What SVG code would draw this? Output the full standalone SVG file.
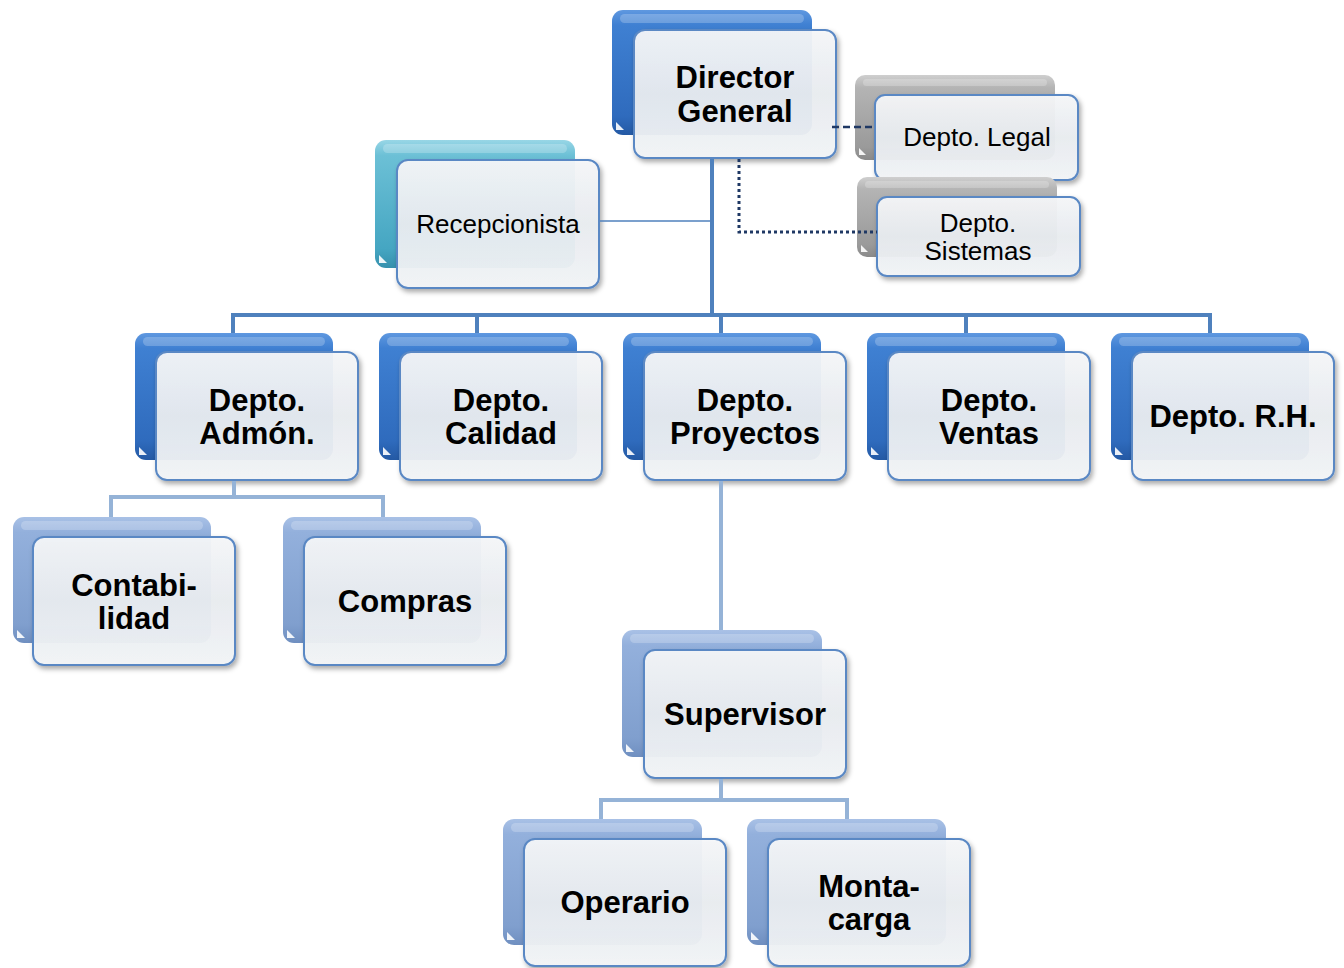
<svg xmlns="http://www.w3.org/2000/svg" width="1344" height="968" viewBox="0 0 1344 968">
<defs>
<linearGradient id="gBlue" x1="0" y1="0" x2="0" y2="1">
<stop offset="0" stop-color="#5f98e0"/><stop offset="0.12" stop-color="#3f80d2"/><stop offset="0.85" stop-color="#2f6bbd"/><stop offset="1" stop-color="#2459a4"/>
</linearGradient>
<linearGradient id="gLight" x1="0" y1="0" x2="0" y2="1">
<stop offset="0" stop-color="#a9c1e6"/><stop offset="0.12" stop-color="#93b0dc"/><stop offset="0.85" stop-color="#809fce"/><stop offset="1" stop-color="#6f8fc0"/>
</linearGradient>
<linearGradient id="gGrey" x1="0" y1="0" x2="0" y2="1">
<stop offset="0" stop-color="#cfcfcf"/><stop offset="0.15" stop-color="#b4b4b4"/><stop offset="0.85" stop-color="#9a9a9a"/><stop offset="1" stop-color="#8a8a8a"/>
</linearGradient>
<linearGradient id="gTeal" x1="0" y1="0" x2="0" y2="1">
<stop offset="0" stop-color="#98d6e6"/><stop offset="0.12" stop-color="#6cc0d6"/><stop offset="0.85" stop-color="#45a6c2"/><stop offset="1" stop-color="#3590ad"/>
</linearGradient>
<linearGradient id="gFront" x1="0" y1="0" x2="0" y2="1">
<stop offset="0" stop-color="#f6f7f9"/><stop offset="0.5" stop-color="#e9edf1"/><stop offset="1" stop-color="#f3f5f7"/>
</linearGradient>
<filter id="sh" x="-10%" y="-10%" width="125%" height="130%">
<feDropShadow dx="2" dy="3" stdDeviation="2.5" flood-color="#000" flood-opacity="0.35"/>
</filter>
<style>
.front{fill:url(#gFront);fill-opacity:0.94;stroke:#5a88c4;stroke-width:2;filter:url(#sh)}
.hl{fill:#fff;fill-opacity:0.22}
.notch{fill:#fff;fill-opacity:0.9}
.b{font-family:"Liberation Sans",Arial,sans-serif;font-weight:bold;font-size:31px;fill:#000;text-anchor:middle}
.r{font-family:"Liberation Sans",Arial,sans-serif;font-size:26px;fill:#000;text-anchor:middle}
.main{fill:none;stroke:#4f81bd;stroke-width:4}
.sub{fill:none;stroke:#95b3d7;stroke-width:4}
.thin{fill:none;stroke:#4f81bd;stroke-width:1.5}
.dash{fill:none;stroke:#1f3864;stroke-width:2.5;stroke-dasharray:7,4}
.dot{fill:none;stroke:#1f3864;stroke-width:3;stroke-dasharray:3,3}
</style>
</defs>
<rect width="1344" height="968" fill="#fff"/>

<g id="director">
<rect x="612" y="10" width="200" height="125" rx="11" fill="url(#gBlue)"/>
<rect x="620" y="14" width="184" height="9" rx="4.5" class="hl"/>
<path class="notch" d="M616,130 L616,122 L624,130 Z"/>
<rect x="634" y="30" width="202" height="128" rx="11" class="front"/>
<text class="b" x="735" y="88">Director</text>
<text class="b" x="735" y="122">General</text>
</g>

<g id="legal">
<rect x="855" y="75" width="200" height="85" rx="10" fill="url(#gGrey)"/>
<rect x="863" y="79" width="184" height="7" rx="3.5" class="hl"/>
<path class="notch" d="M859,155 L859,148 L866,155 Z"/>
<rect x="875" y="95" width="203" height="85" rx="10" class="front"/>
<text class="r" x="977" y="146">Depto. Legal</text>
</g>

<g id="sistemas">
<rect x="857" y="177" width="200" height="80" rx="10" fill="url(#gGrey)"/>
<rect x="865" y="181" width="184" height="7" rx="3.5" class="hl"/>
<path class="notch" d="M861,252 L861,245 L868,252 Z"/>
<rect x="877" y="197" width="203" height="79" rx="10" class="front"/>
<text class="r" x="978" y="232">Depto.</text>
<text class="r" x="978" y="260">Sistemas</text>
</g>

<g id="recepcionista">
<rect x="375" y="140" width="200" height="128" rx="11" fill="url(#gTeal)"/>
<rect x="383" y="144" width="184" height="9" rx="4.5" class="hl"/>
<path class="notch" d="M379,263 L379,255 L387,263 Z"/>
<rect x="397" y="160" width="202" height="128" rx="11" class="front"/>
<text class="r" x="498" y="233">Recepcionista</text>
</g>

<g id="admon">
<rect x="135" y="333" width="198" height="127" rx="11" fill="url(#gBlue)"/>
<rect x="143" y="337" width="182" height="9" rx="4.5" class="hl"/>
<path class="notch" d="M139,455 L139,447 L147,455 Z"/>
<rect x="156" y="352" width="202" height="128" rx="11" class="front"/>
<text class="b" x="257" y="411">Depto.</text>
<text class="b" x="257" y="444">Admón.</text>
</g>

<g id="calidad">
<rect x="379" y="333" width="198" height="127" rx="11" fill="url(#gBlue)"/>
<rect x="387" y="337" width="182" height="9" rx="4.5" class="hl"/>
<path class="notch" d="M383,455 L383,447 L391,455 Z"/>
<rect x="400" y="352" width="202" height="128" rx="11" class="front"/>
<text class="b" x="501" y="411">Depto.</text>
<text class="b" x="501" y="444">Calidad</text>
</g>

<g id="proyectos">
<rect x="623" y="333" width="198" height="127" rx="11" fill="url(#gBlue)"/>
<rect x="631" y="337" width="182" height="9" rx="4.5" class="hl"/>
<path class="notch" d="M627,455 L627,447 L635,455 Z"/>
<rect x="644" y="352" width="202" height="128" rx="11" class="front"/>
<text class="b" x="745" y="411">Depto.</text>
<text class="b" x="745" y="444">Proyectos</text>
</g>

<g id="ventas">
<rect x="867" y="333" width="198" height="127" rx="11" fill="url(#gBlue)"/>
<rect x="875" y="337" width="182" height="9" rx="4.5" class="hl"/>
<path class="notch" d="M871,455 L871,447 L879,455 Z"/>
<rect x="888" y="352" width="202" height="128" rx="11" class="front"/>
<text class="b" x="989" y="411">Depto.</text>
<text class="b" x="989" y="444">Ventas</text>
</g>

<g id="rh">
<rect x="1111" y="333" width="198" height="127" rx="11" fill="url(#gBlue)"/>
<rect x="1119" y="337" width="182" height="9" rx="4.5" class="hl"/>
<path class="notch" d="M1115,455 L1115,447 L1123,455 Z"/>
<rect x="1132" y="352" width="202" height="128" rx="11" class="front"/>
<text class="b" x="1233" y="427">Depto. R.H.</text>
</g>

<g id="contabilidad">
<rect x="13" y="517" width="198" height="126" rx="11" fill="url(#gLight)"/>
<rect x="21" y="521" width="182" height="9" rx="4.5" class="hl"/>
<path class="notch" d="M17,638 L17,630 L25,638 Z"/>
<rect x="33" y="537" width="202" height="128" rx="11" class="front"/>
<text class="b" x="134" y="596">Contabi-</text>
<text class="b" x="134" y="629">lidad</text>
</g>

<g id="compras">
<rect x="283" y="517" width="198" height="126" rx="11" fill="url(#gLight)"/>
<rect x="291" y="521" width="182" height="9" rx="4.5" class="hl"/>
<path class="notch" d="M287,638 L287,630 L295,638 Z"/>
<rect x="304" y="537" width="202" height="128" rx="11" class="front"/>
<text class="b" x="405" y="612">Compras</text>
</g>

<g id="supervisor">
<rect x="622" y="630" width="200" height="127" rx="11" fill="url(#gLight)"/>
<rect x="630" y="634" width="184" height="9" rx="4.5" class="hl"/>
<path class="notch" d="M626,752 L626,744 L634,752 Z"/>
<rect x="644" y="650" width="202" height="128" rx="11" class="front"/>
<text class="b" x="745" y="725">Supervisor</text>
</g>

<g id="operario">
<rect x="503" y="819" width="199" height="126" rx="11" fill="url(#gLight)"/>
<rect x="511" y="823" width="183" height="9" rx="4.5" class="hl"/>
<path class="notch" d="M507,940 L507,932 L515,940 Z"/>
<rect x="524" y="839" width="202" height="127" rx="11" class="front"/>
<text class="b" x="625" y="913">Operario</text>
</g>

<g id="montacarga">
<rect x="747" y="819" width="199" height="126" rx="11" fill="url(#gLight)"/>
<rect x="755" y="823" width="183" height="9" rx="4.5" class="hl"/>
<path class="notch" d="M751,940 L751,932 L759,940 Z"/>
<rect x="768" y="839" width="202" height="127" rx="11" class="front"/>
<text class="b" x="869" y="897">Monta-</text>
<text class="b" x="869" y="930">carga</text>
</g>

<g id="connectors">
<path class="main" d="M712,159 V315 M231,315 H1212 M233,315 V333 M477,315 V333 M721,315 V333 M966,315 V333 M1210,315 V333"/>
<path class="thin" d="M600,221 H712"/>
<path class="dash" d="M832,127 H875"/>
<path class="dot" d="M739,159 V232 H877"/>
<path class="sub" d="M234,481 V497 M111,497 H383 M111,495 V517 M383,495 V517"/>
<path class="sub" d="M721,481 V630"/>
<path class="sub" d="M721,779 V800 M601,800 H847 M601,798 V819 M847,798 V819"/>
</g>
</svg>
